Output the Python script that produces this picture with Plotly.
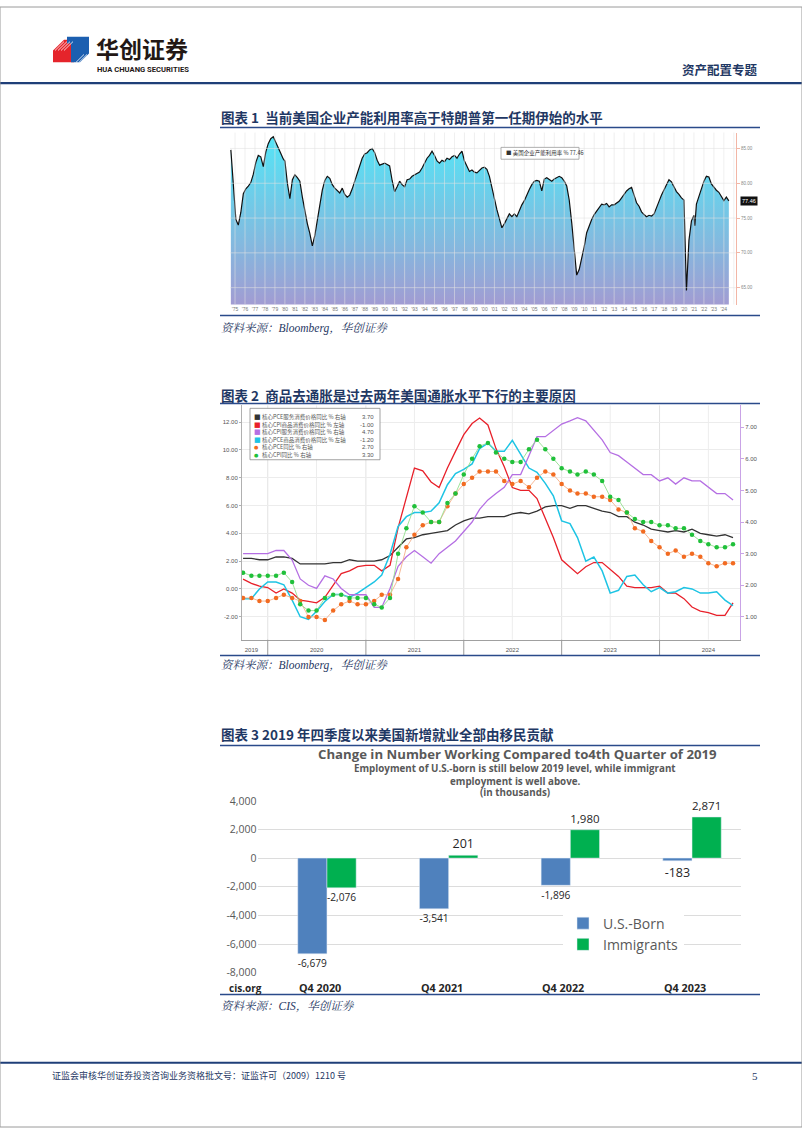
import plotly.graph_objects as go

W, H = 802, 1133
def X(px): return px / W
def Y(py): return 1 - py / H

NAVY = "#1f3864"
LINEBLUE = "#2a4a8a"
CJK = "Noto Sans CJK SC"
SERIF = "Liberation Serif, Noto Serif CJK SC, Noto Sans CJK SC"

# ---------------- Chart 1 data: US capacity utilization ----------------
cu_dates = [
    "1974-08", "1974-11", "1975-02", "1975-05", "1975-08", "1975-11",
    "1976-02", "1976-05", "1976-08", "1976-11", "1977-02", "1977-05", "1977-08", "1977-11",
    "1978-02", "1978-05", "1978-08", "1978-11", "1979-02", "1979-05", "1979-08", "1979-11",
    "1980-01", "1980-04", "1980-07", "1980-10", "1981-01", "1981-04", "1981-07", "1981-10",
    "1982-01", "1982-04", "1982-07", "1982-10", "1983-01", "1983-04", "1983-07", "1983-10",
    "1984-01", "1984-04", "1984-07", "1984-10", "1985-01", "1985-04", "1985-07", "1985-10",
    "1986-01", "1986-04", "1986-07", "1986-10", "1987-01", "1987-04", "1987-07", "1987-10",
    "1988-01", "1988-04", "1988-07", "1988-10", "1989-01", "1989-04", "1989-07", "1989-10",
    "1990-01", "1990-04", "1990-07", "1990-10", "1991-01", "1991-04", "1991-07", "1991-10",
    "1992-01", "1992-04", "1992-07", "1992-10", "1993-01", "1993-04", "1993-07", "1993-10",
    "1994-01", "1994-04", "1994-07", "1994-10", "1995-01", "1995-04", "1995-07", "1995-10",
    "1996-01", "1996-04", "1996-07", "1996-10", "1997-01", "1997-04", "1997-07", "1997-10",
    "1998-01", "1998-04", "1998-07", "1998-10", "1999-01", "1999-04", "1999-07", "1999-10",
    "2000-01", "2000-04", "2000-07", "2000-10", "2001-01", "2001-04", "2001-07", "2001-10",
    "2002-01", "2002-04", "2002-07", "2002-10", "2003-01", "2003-04", "2003-07", "2003-10",
    "2004-01", "2004-04", "2004-07", "2004-10", "2005-01", "2005-04", "2005-07", "2005-10",
    "2006-01", "2006-04", "2006-07", "2006-10", "2007-01", "2007-04", "2007-07", "2007-10",
    "2008-01", "2008-04", "2008-07", "2008-10", "2009-01", "2009-04", "2009-07", "2009-10",
    "2010-01", "2010-04", "2010-07", "2010-10", "2011-01", "2011-04", "2011-07", "2011-10",
    "2012-01", "2012-04", "2012-07", "2012-10", "2013-01", "2013-04", "2013-07", "2013-10",
    "2014-01", "2014-04", "2014-07", "2014-10", "2015-01", "2015-04", "2015-07", "2015-10",
    "2016-01", "2016-04", "2016-07", "2016-10", "2017-01", "2017-04", "2017-07", "2017-10",
    "2018-01", "2018-04", "2018-07", "2018-10", "2019-01", "2019-04", "2019-07", "2019-10",
    "2020-01", "2020-04", "2020-07", "2020-10", "2021-01", "2021-02", "2021-04", "2021-07", "2021-10",
    "2022-01", "2022-04", "2022-07", "2022-10", "2023-01", "2023-04", "2023-07", "2023-10",
    "2024-01", "2024-04", "2024-07",
]
cu_values = [
    84.8, 80.0, 74.8, 74.0, 75.8, 78.5,
    79.2, 79.6, 80.1, 81.3, 83.0, 84.0, 83.8, 82.4,
    84.5, 85.7, 86.4, 86.7, 85.8, 85.0, 84.3, 83.5,
    83.2, 80.0, 77.8, 80.5, 81.2, 80.8, 80.3, 78.0,
    75.8, 74.2, 72.8, 71.0, 72.5, 74.5, 77.0, 79.0,
    80.4, 81.0, 80.7, 79.8, 79.3, 78.9, 78.6, 79.3,
    78.4, 78.0, 78.3, 79.2, 80.3, 81.4, 82.7, 83.6,
    84.2, 84.4, 84.8, 85.0, 84.4, 83.3, 82.6, 82.8,
    82.9, 82.7, 82.5, 80.4, 78.8, 79.5, 80.3, 79.8,
    79.5, 80.5, 80.6, 81.0, 81.2, 81.3, 81.6, 82.2,
    83.0, 83.6, 84.0, 84.6, 84.0, 83.2, 82.9, 83.3,
    83.1, 83.6, 83.4, 83.8, 84.0, 83.6, 84.2, 84.6,
    83.2, 82.4, 81.7, 81.9, 81.6, 81.5, 81.9, 82.2,
    82.3, 82.0, 81.0, 79.6, 77.8, 76.2, 74.9, 73.6,
    74.2, 75.0, 75.6, 75.2, 75.6, 75.2, 76.1, 76.9,
    77.5, 78.4, 79.1, 79.8, 80.3, 80.4, 80.3, 78.9,
    80.6, 80.8, 80.6, 80.3, 80.6, 80.8, 81.0, 80.8,
    80.3, 79.6, 77.6, 74.3, 70.2, 66.8, 67.6, 69.2,
    70.9, 72.9, 74.0, 74.8, 75.5, 76.0, 76.6, 77.0,
    76.9, 77.1, 76.6, 76.9, 76.9, 77.2, 77.4, 77.9,
    78.4, 78.9, 79.2, 79.4, 78.3, 77.2, 76.7, 75.9,
    75.5, 75.2, 75.4, 75.3, 75.6, 76.6, 77.4, 78.3,
    79.0, 79.8, 80.5, 80.2, 79.5, 78.8, 78.4, 77.9,
    77.6, 64.6, 71.8, 74.6, 75.4, 73.9, 77.0, 78.2, 79.3,
    80.3, 81.0, 80.9, 79.9, 79.4, 79.0, 78.7, 78.0,
    77.5, 78.0, 77.46,
]
cu_tick_years = list(range(1975, 2025))
cu_tick_text = ["'" + str(y)[2:] for y in cu_tick_years]
cu_y_ticks = [65, 70, 75, 80, 85]
cu_last_label = "77.46"

# ---------------- Chart 2 data: inflation components (Sep 2019 - Sep 2024) ----------------
inf_months = [(2019 + (9 + i) // 12, (9 + i) % 12 + 1) for i in range(61)]
inf_dates = [f"{y}-{m:02d}-01" for y, m in inf_months]
pce_services = [2.2, 2.2, 2.1, 2.1, 2.3, 2.3, 2.2, 1.8, 1.8, 1.8,
                1.8, 1.9, 1.9, 2.1, 2.0, 2.0, 2.0, 2.1, 2.4, 3.0,
                3.6, 3.7, 3.9, 4.0, 4.1, 4.2, 4.6, 4.9, 5.1, 5.1,
                5.2, 5.2, 5.2, 5.4, 5.5, 5.4, 5.6, 5.9, 6.0, 6.0,
                5.8, 6.0, 6.0, 5.8, 5.6, 5.5, 5.2, 5.2, 4.8, 4.6,
                4.3, 4.2, 4.1, 4.2, 4.1, 4.3, 4.0, 3.9, 3.8, 3.9, 3.7]
cpi_goods = [0.7, 0.4, 0.2, 0.1, -0.3, 0.0, -0.3, -0.8, -0.9, -1.0,
             -0.6, 0.3, 1.1, 1.3, 1.6, 1.7, 1.7, 1.3, 1.7, 4.4,
             6.5, 8.7, 8.5, 7.7, 7.3, 8.7, 9.9, 11.1, 11.9, 12.3,
             11.8, 10.1, 8.8, 7.3, 7.1, 7.1, 6.5, 5.1, 3.7, 2.1,
             1.6, 1.1, 1.6, 1.9, 1.9, 1.4, 0.9, 0.2, 0.1, 0.1,
             0.1, 0.2, -0.3, -0.3, -0.7, -1.3, -1.6, -1.7, -1.9, -1.9, -1.0]
cpi_services = [3.0, 3.0, 3.0, 3.0, 3.1, 3.1, 2.8, 2.2, 2.0, 1.9,
                2.3, 2.2, 1.9, 1.7, 1.7, 1.7, 1.3, 1.3, 1.9, 2.6,
                2.9, 3.1, 2.9, 2.7, 3.0, 3.2, 3.4, 3.7, 4.0, 4.4,
                4.7, 4.9, 5.1, 5.5, 5.5, 6.1, 6.7, 6.7, 6.9, 7.1,
                7.2, 7.3, 7.2, 6.9, 6.6, 6.2, 6.1, 5.9, 5.7, 5.5,
                5.5, 5.3, 5.4, 5.2, 5.4, 5.3, 5.3, 5.1, 4.9, 4.9, 4.7]
pce_goods = [-0.7, -0.7, 0.0, 0.5, 0.5, 0.3, -0.8, -2.0, -2.2, -1.6,
             -0.9, -0.4, -0.4, -0.6, -0.3, 0.1, 0.5, 1.0, 2.5, 4.5,
             5.2, 5.5, 5.5, 5.6, 6.2, 7.5, 8.3, 8.6, 9.0, 10.1,
             10.5, 9.9, 9.9, 10.7, 9.7, 8.7, 8.4, 7.6, 6.7, 4.9,
             4.7, 3.7, 2.0, 2.3, 1.3, -0.3, -0.1, 0.9, 1.0, 0.3,
             -0.2, 0.1, -0.3, -0.2, 0.1, 0.0, -0.3, -0.3, -0.2, -0.8, -1.2]
core_pce = [1.6, 1.6, 1.5, 1.5, 1.6, 1.7, 1.6, 1.5, 1.0, 1.0,
            0.9, 1.2, 1.4, 1.5, 1.4, 1.4, 1.5, 1.7, 1.7, 2.2,
            3.2, 3.6, 3.9, 4.0, 4.0, 4.5, 4.9, 5.2, 5.4, 5.6,
            5.6, 5.6, 5.3, 5.2, 5.3, 5.1, 5.4, 5.6, 5.5, 5.2,
            5.0, 4.9, 4.9, 4.8, 4.8, 4.7, 4.4, 4.3, 3.8, 3.7,
            3.4, 3.2, 3.0, 3.1, 2.9, 3.0, 2.9, 2.7, 2.6, 2.7, 2.7]
core_cpi = [2.4, 2.3, 2.3, 2.3, 2.3, 2.4, 2.1, 1.4, 1.2, 1.2,
            1.6, 1.7, 1.7, 1.6, 1.6, 1.6, 1.4, 1.3, 1.6, 3.0,
            3.8, 4.5, 4.3, 4.0, 4.0, 4.6, 4.9, 5.5, 6.0, 6.4,
            6.5, 6.2, 6.0, 5.9, 5.9, 6.3, 6.6, 6.3, 6.0, 5.7,
            5.6, 5.5, 5.6, 5.5, 5.3, 4.8, 4.7, 4.3, 4.1, 4.0,
            4.0, 3.9, 3.9, 3.8, 3.8, 3.6, 3.4, 3.3, 3.2, 3.2, 3.3]
inf_years = [2019, 2020, 2021, 2022, 2023, 2024]
inf_left_ticks = [-2, 0, 2, 4, 6, 8, 10, 12]
inf_right_ticks = [1, 2, 3, 4, 5, 6, 7]
inf_legend = [
    ("核心PCE服务消费价格同比 % 右轴", "3.70"),
    ("核心CPI商品消费价格同比 % 左轴", "-1.00"),
    ("核心CPI服务消费价格同比 % 右轴", "4.70"),
    ("核心PCE商品消费价格同比 % 左轴", "-1.20"),
    ("核心PCE同比 % 右轴", "2.70"),
    ("核心CPI同比 % 右轴", "3.30"),
]

# ---------------- Chart 3 data: employment change vs Q4 2019 ----------------
quarters = ["Q4 2020", "Q4 2021", "Q4 2022", "Q4 2023"]
us_born = [-6679, -3541, -1896, -183]
immigrants = [-2076, 201, 1980, 2871]
emp_ticks = [-8000, -6000, -4000, -2000, 0, 2000, 4000]

fig = go.Figure()

# ---- Chart 1 ----
fig.add_trace(go.Scatter(
    x=cu_dates, y=cu_values, xaxis="x", yaxis="y", mode="lines",
    line=dict(color="#101010", width=1.2), fill="tozeroy",
    fillgradient=dict(type="vertical",
                      colorscale=[[0, "#a29bd2"], [0.45, "#7cc0e2"], [1, "#52e6f7"]],
                      start=62.6, stop=87.3),
    showlegend=False, hoverinfo="skip"))

# ---- Chart 2 ----
line_specs = [
    (pce_services, "y2", "#333333", 1.3),
    (cpi_goods, "y2", "#e8202a", 1.3),
    (cpi_services, "y3", "#b56fe3", 1.3),
    (pce_goods, "y2", "#1ec4e4", 1.5),
]
for vals, ya, col, w in line_specs:
    fig.add_trace(go.Scatter(x=inf_dates, y=vals, xaxis="x2", yaxis=ya, mode="lines",
                             line=dict(color=col, width=w), showlegend=False, hoverinfo="skip"))
fig.add_trace(go.Scatter(x=inf_dates, y=core_pce, xaxis="x2", yaxis="y3", mode="lines+markers",
                         line=dict(color="#f5b08a", width=0.9),
                         marker=dict(color="#f26b21", size=4.5),
                         showlegend=False, hoverinfo="skip"))
fig.add_trace(go.Scatter(x=inf_dates, y=core_cpi, xaxis="x2", yaxis="y3", mode="lines+markers",
                         line=dict(color="#94e08f", width=0.9),
                         marker=dict(color="#20c03a", size=4.5),
                         showlegend=False, hoverinfo="skip"))

# ---- Chart 3 ----
fig.add_trace(go.Bar(x=quarters, y=us_born, name="U.S.-Born", xaxis="x3", yaxis="y4",
                     marker_color="#4f81bd", text=[f"{v:,}" for v in us_born],
                     textposition="outside", cliponaxis=False,
                     textfont=dict(family="Open Sans", size=12.5, color="#262626")))
fig.add_trace(go.Bar(x=quarters, y=immigrants, name="Immigrants", xaxis="x3", yaxis="y4",
                     marker_color="#00b050", text=[f"{v:,}" for v in immigrants],
                     textposition="outside", cliponaxis=False,
                     textfont=dict(family="Open Sans", size=12.5, color="#262626")))

shapes = []
ann = []

# chart 1 gridlines (drawn over the fill)
for yr in cu_tick_years + [2025]:
    shapes.append(dict(type="line", xref="x", yref="y domain", x0=f"{yr}-01-01", x1=f"{yr}-01-01",
                       y0=0, y1=1, line=dict(color="rgba(225,225,225,0.55)", width=1), layer="above"))
for v in cu_y_ticks:
    shapes.append(dict(type="line", xref="x domain", yref="y", x0=0, x1=1, y0=v, y1=v,
                       line=dict(color="rgba(225,225,225,0.55)", width=1), layer="above"))

# chart 2 gridlines / separators
for yr in range(2020, 2025):
    shapes.append(dict(type="line", xref="x2", yref="y2 domain", x0=f"{yr}-01-01", x1=f"{yr}-01-01",
                       y0=0, y1=1, line=dict(color="#e2e2e2", width=1), layer="below"))
    shapes.append(dict(type="line", xref="x2", yref="y2 domain", x0=f"{yr}-01-01", x1=f"{yr}-01-01",
                       y0=-16 / 237, y1=0, line=dict(color="#9a9a9a", width=1)))
for yr in range(2020, 2025):
    shapes.append(dict(type="line", xref="x2", yref="y2 domain", x0=f"{yr}-07-01", x1=f"{yr}-07-01",
                       y0=0, y1=1, line=dict(color="#ededed", width=1), layer="below"))

# page lines
def hline(y, x0=220, x1=760, color=LINEBLUE, w=1.5):
    shapes.append(dict(type="line", xref="paper", yref="paper", x0=X(x0), x1=X(x1), y0=Y(y), y1=Y(y),
                       line=dict(color=color, width=w)))
hline(77, 0, 802, "#1f3f78", 2.2)
for yy in (122, 312, 401, 656, 747, 999):
    hline(yy)
hline(1068, 0, 802, "#1f3f78", 2)
shapes.append(dict(type="rect", xref="paper", yref="paper", x0=0, x1=1, y0=0, y1=1,
                   line=dict(color="#9a9a9a", width=1)))

# logo
def path(points):
    return "M " + " L ".join(f"{X(a):.5f},{Y(b):.5f}" for a, b in points) + " Z"
shapes.append(dict(type="path", xref="paper", yref="paper",
                   path=path([(53, 44), (64, 33), (74, 33), (74, 56), (53, 56)]),
                   fillcolor="#e5242b", line=dict(width=0)))
shapes.append(dict(type="path", xref="paper", yref="paper",
                   path=path([(67, 30), (89, 30), (89, 47), (80, 56), (71, 56), (71, 37), (67, 37)]),
                   fillcolor="#1c5fb0", line=dict(width=0)))
for k in range(4):
    shapes.append(dict(type="line", xref="paper", yref="paper",
                       x0=X(55 + 3 * k), y0=Y(44), x1=X(64 + 3 * k), y1=Y(35),
                       line=dict(color="white", width=0.8)))
    shapes.append(dict(type="line", xref="paper", yref="paper",
                       x0=X(76 + 3 * k), y0=Y(56), x1=X(84 + 3 * k), y1=Y(48),
                       line=dict(color="white", width=0.8)))

# chart 1 legend box
shapes.append(dict(type="rect", xref="paper", yref="paper", x0=X(501), x1=X(579), y0=Y(154), y1=Y(142),
                   fillcolor="white", line=dict(color="#9a9a9a", width=0.8)))
# chart 2 legend box
shapes.append(dict(type="rect", xref="paper", yref="paper", x0=X(250), x1=X(380), y0=Y(458), y1=Y(406),
                   fillcolor="white", line=dict(color="#8a8a8a", width=0.8)))

def text(x, y, s, size, color="#222", family=CJK, xanchor="left", **kw):
    ann.append(dict(x=X(x), y=Y(y), xref="paper", yref="paper", text=s, showarrow=False,
                    xanchor=xanchor, yanchor="middle", font=dict(size=size, color=color, family=family), **kw))

# header
text(94, 41.5, "<b>华创证券</b>", 23, "#231815")
text(95, 63.5, "<b>HUA CHUANG SECURITIES</b>", 7.6, "#231815", family="Roboto")
text(760, 63, "<b>资产配置专题</b>", 12.5, NAVY, xanchor="right")

# titles & sources
text(219, 111, "<b>图表 1  当前美国企业产能利用率高于特朗普第一任期伊始的水平</b>", 13.5, NAVY)
text(219, 325, "<i>资料来源：Bloomberg，华创证券</i>", 11.5, NAVY, family=SERIF)
text(219, 392, "<b>图表 2  商品去通胀是过去两年美国通胀水平下行的主要原因</b>", 13.5, NAVY)
text(219, 666, "<i>资料来源：Bloomberg，华创证券</i>", 11.5, NAVY, family=SERIF)
text(219, 735, "<b>图表 3 2019 年四季度以来美国新增就业全部由移民贡献</b>", 13.5, NAVY)
text(219, 1011, "<i>资料来源：CIS，华创证券</i>", 11.5, NAVY, family=SERIF)

# footer
text(50, 1081, "证监会审核华创证券投资咨询业务资格批文号：证监许可（2009）1210 号", 9, NAVY)
text(760, 1081, "5", 11, NAVY, family=SERIF, xanchor="right")

# chart 1 legend and last-value tag
text(504, 148, "■ 美国企业产能利用率 % 77.46", 5.5, "#333")
ann.append(dict(x=X(740), y=Y(196), xref="paper", yref="paper", text=cu_last_label, showarrow=False,
                xanchor="left", yanchor="middle", bgcolor="#111", borderpad=1,
                font=dict(size=5.5, color="white", family="Liberation Sans")))

# chart 2 legend entries
row_y = [415, 422.7, 430.3, 437.9, 445.5, 453]
marks = [("■", "#333333"), ("■", "#e8202a"), ("■", "#b56fe3"), ("■", "#1ec4e4"), ("●", "#f26b21"), ("●", "#20c03a")]
for (lbl, val), yy, (sym, col) in zip(inf_legend, row_y, marks):
    text(252, yy, sym, 7 if sym == "■" else 5, col, family="DejaVu Sans")
    text(260, yy, lbl, 5.5, "#555")
    text(376, yy, val, 6, "#555", family="Liberation Sans", xanchor="right")

# chart 3 titles
text(517, 756, "<b>Change in Number Working Compared to4th Quarter of 2019</b>", 13.2, "#595959",
     family="Open Sans", xanchor="center")
text(515, 770.5, "<b>Employment of U.S.-born is still below 2019 level, while immigrant</b>", 9.8, "#595959",
     family="Open Sans", xanchor="center")
text(515, 783, "<b>employment is well above.</b>", 9.8, "#595959", family="Open Sans", xanchor="center")
text(515, 795, "<b>(in thousands)</b>", 9.8, "#595959", family="Open Sans", xanchor="center")
text(245, 992, "<b>cis.org</b>", 10, "#262626", family="Open Sans", xanchor="center")
for q in quarters:
    ann.append(dict(x=q, y=Y(992), xref="x3", yref="paper", text=f"<b>{q}</b>", showarrow=False,
                    xanchor="center", yanchor="middle", xshift=-7,
                    font=dict(size=10.8, color="#262626", family="Open Sans")))

fig.update_layout(
    width=W, height=H, autosize=False,
    margin=dict(l=0, r=0, t=0, b=0),
    paper_bgcolor="white", plot_bgcolor="white",
    shapes=shapes, annotations=ann,
    barmode="group", bargap=0.52, bargroupgap=0,
    showlegend=True,
    legend=dict(x=X(563), y=Y(911), xanchor="left", yanchor="top", bgcolor="white",
                font=dict(family="Open Sans", size=14, color="#595959"),
                tracegroupgap=0, itemwidth=30),
    xaxis=dict(domain=[X(230), X(736)], anchor="y", type="date",
               range=["1974-07-01", "2025-03-20"],
               tickvals=[f"{y}-01-01" for y in cu_tick_years], ticktext=cu_tick_text,
               tickfont=dict(size=5, color="#777", family="Liberation Sans"),
               showgrid=False, zeroline=False, showline=False, ticks=""),
    yaxis=dict(domain=[Y(301), Y(127)], anchor="x", side="right", range=[62.57, 87.29],
               tickvals=cu_y_ticks, ticktext=[f"{v:.2f}" for v in cu_y_ticks],
               tickfont=dict(size=4.5, color="#888", family="Liberation Sans"),
               showgrid=False, zeroline=False, showline=True, linecolor="#f2b6a6", linewidth=1,
               ticks="outside", ticklen=3, tickcolor="#f2b6a6"),
    xaxis2=dict(domain=[X(242), X(740)], anchor="y2", type="date",
                range=["2019-09-27", "2024-10-27"],
                tickvals=["2019-11-01"] + [f"{y}-07-01" for y in inf_years[1:]],
                ticktext=[str(y) for y in inf_years],
                tickfont=dict(size=6, color="#555", family="Liberation Sans"),
                showgrid=False, zeroline=False, showline=True, linecolor="#a0a0a0", ticks="",
                ticklabelstandoff=4),
    yaxis2=dict(domain=[Y(640), Y(403)], anchor="x2", range=[-3.65, 13.21],
                tickvals=inf_left_ticks, ticktext=[f"{v:.2f}" for v in inf_left_ticks],
                tickfont=dict(size=6, color="#555", family="Liberation Sans"),
                showgrid=True, gridcolor="#ececec", zeroline=False, showline=True,
                linecolor="#b0b0b0", ticks="outside", ticklen=2, tickcolor="#b0b0b0"),
    yaxis3=dict(overlaying="y2", anchor="x2", side="right", range=[0.28, 7.69],
                tickvals=inf_right_ticks, ticktext=[f"{v:.2f}" for v in inf_right_ticks],
                tickfont=dict(size=6, color="#555", family="Liberation Sans"),
                showgrid=False, zeroline=False, showline=True, linecolor="#c9a3e6",
                ticks="outside", ticklen=3, tickcolor="#c9a3e6"),
    xaxis3=dict(domain=[X(257.6), X(740.7)], anchor="y4", type="category", range=[-0.57, 3.4],
                showticklabels=False, showgrid=False, zeroline=False, showline=False, ticks=""),
    yaxis4=dict(domain=[Y(977.7), Y(802.3)], anchor="x3", range=[-8050, 4050],
                tickvals=emp_ticks, ticktext=[f"{v:,}" for v in emp_ticks],
                tickfont=dict(size=10.5, color="#595959", family="Open Sans"),
                showgrid=True, gridcolor="#dcdcdc", zeroline=False, showline=False, ticks=""),
)

fig.write_html("out.html", config={"displayModeBar": False},
               post_script="document.body.style.margin='0';document.body.style.overflow='hidden';")
